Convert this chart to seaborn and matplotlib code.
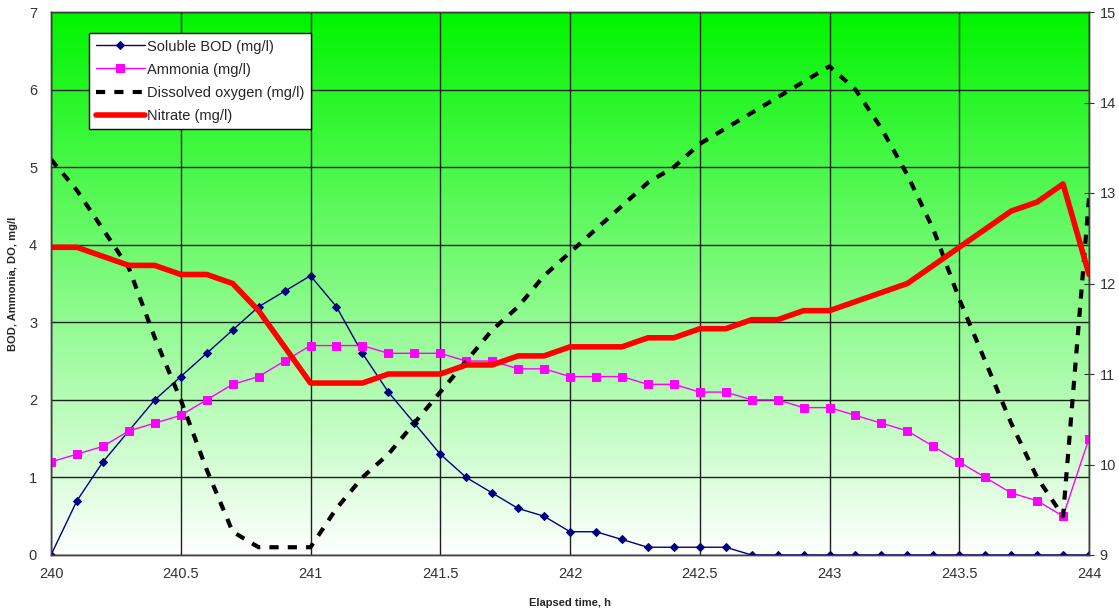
import numpy as np
import pandas as pd
import seaborn as sns
import matplotlib.pyplot as plt

# elapsed time, h (every 0.1 h)
elapsed = [round(240 + 0.1 * i, 1) for i in range(41)]

# left axis, mg/l
soluble_bod = [0, 0.7, 1.2, 1.6, 2.0, 2.3, 2.6, 2.9, 3.2, 3.4,
               3.6, 3.2, 2.6, 2.1, 1.7, 1.3, 1.0, 0.8, 0.6, 0.5,
               0.3, 0.3, 0.2, 0.1, 0.1, 0.1, 0.1, 0, 0, 0,
               0, 0, 0, 0, 0, 0, 0, 0, 0, 0, 0]
ammonia = [1.2, 1.3, 1.4, 1.6, 1.7, 1.8, 2.0, 2.2, 2.3, 2.5,
           2.7, 2.7, 2.7, 2.6, 2.6, 2.6, 2.5, 2.5, 2.4, 2.4,
           2.3, 2.3, 2.3, 2.2, 2.2, 2.1, 2.1, 2.0, 2.0, 1.9,
           1.9, 1.8, 1.7, 1.6, 1.4, 1.2, 1.0, 0.8, 0.7, 0.5, 1.5]
dissolved_oxygen = [5.1, 4.7, 4.2, 3.7, 2.8, 2.0, 1.1, 0.3, 0.1, 0.1,
                    0.1, 0.6, 1.0, 1.3, 1.7, 2.1, 2.5, 2.9, 3.2, 3.6,
                    3.9, 4.2, 4.5, 4.8, 5.0, 5.3, 5.5, 5.7, 5.9, 6.1,
                    6.3, 6.0, 5.5, 4.9, 4.2, 3.3, 2.5, 1.7, 1.0, 0.5, 4.6]
# right axis, mg/l
nitrate = [12.4, 12.4, 12.3, 12.2, 12.2, 12.1, 12.1, 12.0, 11.7, 11.3,
           10.9, 10.9, 10.9, 11.0, 11.0, 11.0, 11.1, 11.1, 11.2, 11.2,
           11.3, 11.3, 11.3, 11.4, 11.4, 11.5, 11.5, 11.6, 11.6, 11.7,
           11.7, 11.8, 11.9, 12.0, 12.2, 12.4, 12.6, 12.8, 12.9, 13.1, 12.1]

df = pd.DataFrame({"t": elapsed, "bod": soluble_bod, "nh4": ammonia,
                   "do": dissolved_oxygen, "no3": nitrate})

sns.set_style("white")
plt.rcParams['font.family'] = ['Liberation Sans', 'DejaVu Sans']

fig = plt.figure(figsize=(11.19, 6.13), dpi=100)
ax = fig.add_axes([51 / 1119, 1 - 555 / 613, (1089 - 51) / 1119, (555 - 12) / 613])

# green -> white background gradient
grad = np.linspace(1, 0, 256).reshape(-1, 1)
top = np.array([0.0, 0.96, 0.0])
img = (1 - grad)[..., None] * np.ones(3) + grad[..., None] * top
ax.imshow(img, extent=[240, 244, 0, 7], aspect='auto', zorder=0)

sns.lineplot(data=df, x="t", y="bod", ax=ax, color="#000080", lw=1,
             marker="D", markersize=4.5, markeredgecolor="#000080",
             label="Soluble BOD (mg/l)", zorder=3)
sns.lineplot(data=df, x="t", y="nh4", ax=ax, color="#ff00ff", lw=1,
             marker="s", markersize=6, markeredgecolor="#ff00ff",
             label="Ammonia (mg/l)", zorder=3)
sns.lineplot(data=df, x="t", y="do", ax=ax, color="black", lw=3,
             linestyle=(0, (2.2, 2.2)), label="Dissolved oxygen (mg/l)", zorder=3)

ax2 = ax.twinx()
sns.lineplot(data=df, x="t", y="no3", ax=ax2, color="#ff0000", lw=4,
             label="Nitrate (mg/l)")

ax.set_xlim(240, 244)
ax.set_ylim(0, 7)
ax2.set_ylim(9, 15)
ax.set_xticks(np.arange(240, 244.01, 0.5))
ax.set_xticklabels(["240", "240.5", "241", "241.5", "242", "242.5", "243", "243.5", "244"])
ax.set_yticks(range(0, 8))
ax2.set_yticks(range(9, 16))

ax.grid(True, color="#202020", lw=1, zorder=1)
ax.tick_params(axis="x", length=0, labelsize=10.5, colors="#333333", pad=9)
ax.tick_params(axis="y", length=0, labelsize=10.5, colors="#333333", pad=10)
ax2.tick_params(axis="y", length=7, direction="inout", width=0.8,
                color="#333333", labelsize=10.5, labelcolor="#333333", pad=4)

for a in (ax, ax2):
    for s in a.spines.values():
        s.set_color("#404040")
        s.set_linewidth(1)

ax.set_xlabel("Elapsed time, h", fontsize=8, fontweight="bold", labelpad=12)
ax.set_ylabel("BOD, Ammonia, DO, mg/l", fontsize=8, fontweight="bold", labelpad=8)
ax2.set_ylabel("")

h1, l1 = ax.get_legend_handles_labels()
h2, l2 = ax2.get_legend_handles_labels()
ax2.get_legend().remove()
ax.get_legend().remove()
leg = ax2.legend(h1 + h2, l1 + l2, loc="upper left",
                 bbox_to_anchor=(89 / 1119, 1 - 33 / 613), bbox_transform=fig.transFigure,
                 fontsize=10.5, frameon=True, fancybox=False, framealpha=1,
                 edgecolor="black", borderpad=0.45, labelspacing=0.62,
                 handlelength=3.4, handletextpad=0.1, borderaxespad=0)
leg.get_frame().set_linewidth(1)

fig.savefig("out.png", dpi=100)
